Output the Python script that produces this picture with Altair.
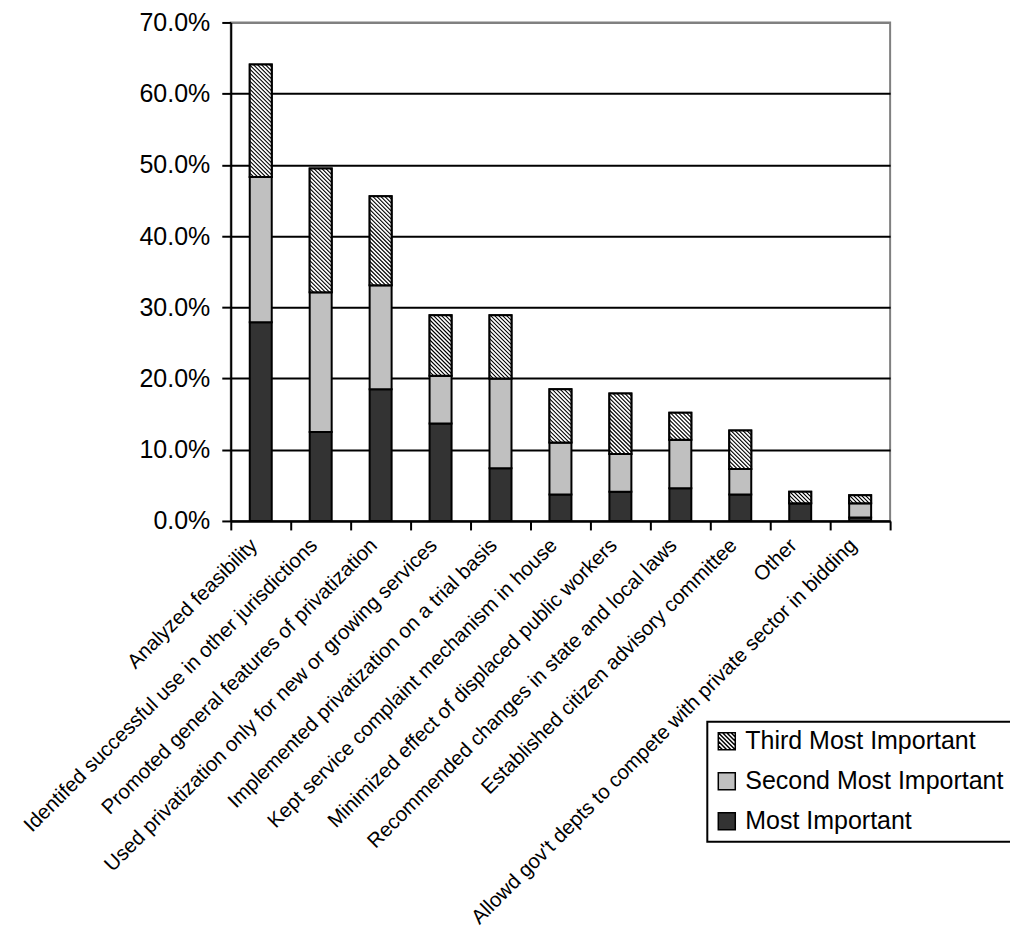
import base64
import altair as alt
import pandas as pd

# ---------------- data ----------------
categories = [
    "Analyzed feasibility",
    "Identifed successful use in other jurisdictions",
    "Promoted general features of privatization",
    "Used privatization only for new or growing services",
    "Implemented privatization on a trial basis",
    "Kept service complaint mechanism in house",
    "Minimized effect of displaced public workers",
    "Recommended changes in state and local laws",
    "Established citizen advisory committee",
    "Other",
    "Allowd gov't depts to compete with private sector in bidding",
]
most_important = [27.9, 12.5, 18.5, 13.7, 7.4, 3.7, 4.1, 4.6, 3.7, 2.5, 0.5]
second_most = [20.4, 19.6, 14.6, 6.7, 12.6, 7.3, 5.3, 6.8, 3.6, 0.0, 2.0]
third_most = [15.8, 17.4, 12.5, 8.5, 8.9, 7.5, 8.5, 3.8, 5.4, 1.6, 1.1]
series_names = ["Most Important", "Second Most Important", "Third Most Important"]
legend_order = ["Third Most Important", "Second Most Important", "Most Important"]
y_ticks = [0.0, 0.1, 0.2, 0.3, 0.4, 0.5, 0.6, 0.7]

# ---------------- styling constants ----------------
FONT = "Liberation Sans"
PLOT_W = 660
PLOT_H = 499
Y_MAX = 0.7
BAR_W = 22
SERIES_FILL = {
    "Most Important": "#333333",
    "Second Most Important": "#c0c0c0",
    "Third Most Important": "#ffffff",
}

rows = []
for i, cat in enumerate(categories):
    base = 0.0
    for name, vals in zip(series_names, [most_important, second_most, third_most]):
        v = vals[i] / 100.0
        rows.append({"cat": cat, "rank": name, "lo": base, "hi": base + v,
                     "value": v, "fillcol": SERIES_FILL[name]})
        base += v
df = pd.DataFrame(rows)


def hatch_url(frac):
    h = max(frac / Y_MAX * PLOT_H, 1.0)
    w = BAR_W
    step = 4.0
    d = []
    c = -h - step
    while c <= w + step:
        d.append(f"M{c:.2f},0L{c + h:.2f},{h:.2f}")
        c += step
    svg = (
        f"<svg xmlns='http://www.w3.org/2000/svg' width='{w}' height='{h:.2f}' "
        f"viewBox='0 0 {w} {h:.2f}' preserveAspectRatio='none'>"
        f"<rect x='0' y='0' width='{w}' height='{h:.2f}' fill='white'/>"
        f"<path d='{''.join(d)}' stroke='black' stroke-width='1.1' fill='none'/></svg>"
    )
    return "data:image/svg+xml;base64," + base64.b64encode(svg.encode()).decode()


df_third = df[df["rank"] == "Third Most Important"].copy()
df_third["url"] = df_third["value"].apply(hatch_url)

# legend symbol: square with diagonal hatch
parts = ["M-1,-1H1V1H-1Z"]
for c in [-1.5, -1.0, -0.5, 0.0, 0.5, 1.0, 1.5]:
    if c >= 0:
        parts.append(f"M{-1 + c},-1L1,{1 - c}")
    else:
        parts.append(f"M-1,{-1 - c}L{1 + c},1")
hatch_path = "".join(parts)

color_scale = alt.Scale(domain=legend_order, range=["#ffffff", "#c0c0c0", "#333333"])
shape_scale = alt.Scale(domain=legend_order, range=[hatch_path, "square", "square"])

x_axis = alt.Axis(
    title=None, labelAngle=-45, labelAlign="right", labelBaseline="middle",
    labelFontSize=20.5, labelPadding=12, labelOffset=-7, labelLimit=1000, labelFont=FONT,
    labelColor="black", tickBand="extent", tickSize=9, tickWidth=2,
    tickColor="black", domainColor="black", domainWidth=2, grid=False,
)
y_axis = alt.Axis(
    title=None, format=".1%", values=y_ticks, labelFontSize=25, labelFont=FONT,
    labelColor="black", labelPadding=12, tickSize=9, tickWidth=2, tickColor="black",
    domainColor="black", domainWidth=2, grid=True, gridWidth=2,
    gridColor={"condition": {"test": "datum.value >= 0.69", "value": "#808080"}, "value": "black"},
)

x_enc = alt.X("cat:N", sort=categories, scale=alt.Scale(paddingInner=0, paddingOuter=0), axis=x_axis)
y_enc = alt.Y("hi:Q", scale=alt.Scale(domain=[0, Y_MAX], nice=False, zero=True), axis=y_axis)

bars = alt.Chart(df).mark_bar(width=BAR_W, stroke="black", strokeWidth=2).encode(
    x=x_enc, y=y_enc, y2="lo:Q",
    fill=alt.Fill("fillcol:N", scale=None),
)

imgs = alt.Chart(df_third).mark_image(width=BAR_W, aspect=False).encode(
    x=alt.X("cat:N", sort=categories), y="hi:Q", y2="lo:Q", url="url:N",
)

outline = alt.Chart(df_third).mark_bar(
    width=BAR_W, fill="white", fillOpacity=0, stroke="black", strokeWidth=2
).encode(x=alt.X("cat:N", sort=categories), y="hi:Q", y2="lo:Q")

leg = alt.Legend(
    title=None, orient="none", legendX=477, legendY=700, strokeColor="black",
    fillColor="white", padding=7, rowPadding=14, labelFontSize=25, labelFont=FONT,
    labelColor="black", labelLimit=1000, labelOffset=6, symbolSize=289,
    symbolStrokeWidth=1.5, symbolOpacity=1,
)

legend_pts = alt.Chart(df).mark_point(
    filled=True, opacity=0, stroke="black", strokeWidth=1.5
).encode(
    x=alt.X("cat:N", sort=categories), y="hi:Q",
    color=alt.Color("rank:N", scale=color_scale, legend=leg),
    shape=alt.Shape("rank:N", scale=shape_scale, legend=leg),
)

chart = (
    alt.layer(bars, imgs, outline, legend_pts)
    .properties(
        width=PLOT_W, height=PLOT_H,
        autosize=alt.AutoSizeParams(type="none"),
        padding={"left": 223, "top": 14, "right": 120, "bottom": 407},
        background="white",
    )
    .configure_view(stroke="#808080", strokeWidth=2)
    .configure_legend(strokeWidth=2)
)

chart.save("out.html", embed_options={"renderer": "svg", "actions": False})
